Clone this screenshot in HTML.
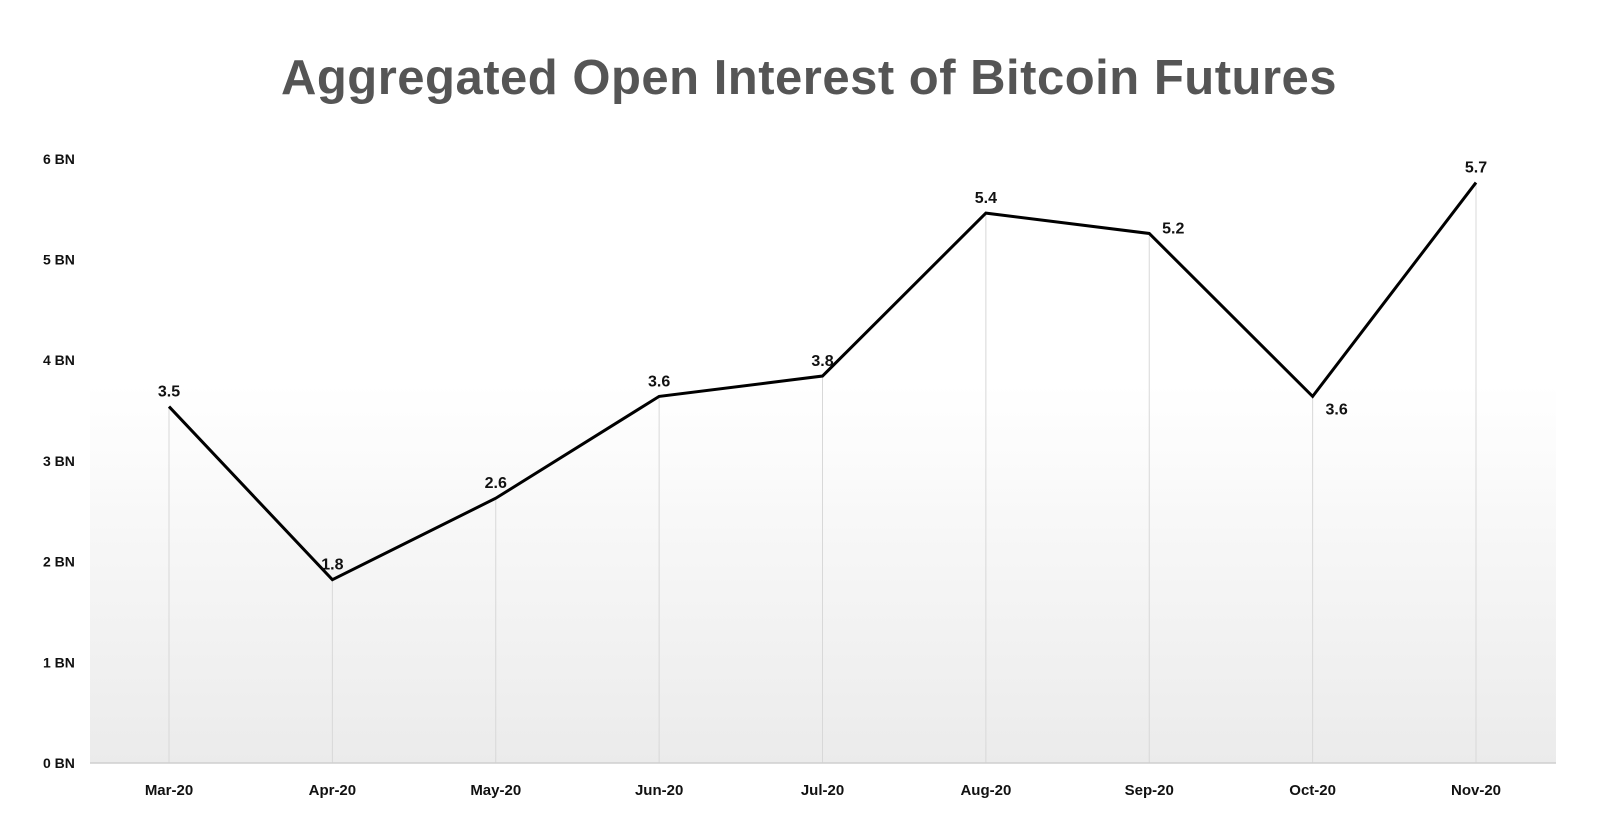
<!DOCTYPE html>
<html><head><meta charset="utf-8"><style>
html,body{margin:0;padding:0;background:#fff}
svg{display:block}
text{font-family:"Liberation Sans",sans-serif;font-weight:bold}
</style></head><body>
<svg id="chart" width="1600" height="827" viewBox="0 0 1600 827">
<defs><linearGradient id="bg" x1="0" y1="0" x2="0" y2="1">
<stop offset="0" stop-color="#ffffff"/><stop offset="0.38" stop-color="#ffffff"/><stop offset="1" stop-color="#ebebeb"/></linearGradient></defs>
<rect x="90" y="152" width="1466" height="611" fill="url(#bg)"/>
<text x="809" y="94" text-anchor="middle" font-size="49" letter-spacing="0.5" fill="#555">Aggregated Open Interest of Bitcoin Futures</text>
<g id="grid"></g><g id="yaxis"></g><g id="xaxis"></g><g id="series"></g>
</svg>
<script>
const categories=["Mar-20","Apr-20","May-20","Jun-20","Jul-20","Aug-20","Sep-20","Oct-20","Nov-20"];
const values=[3.5,1.8,2.6,3.6,3.8,5.4,5.2,3.6,5.7];
const valueLabels=["3.5","1.8","2.6","3.6","3.8","5.4","5.2","3.6","5.7"];
const yTicks=[0,1,2,3,4,5,6];
const yTickLabels=["0 BN","1 BN","2 BN","3 BN","4 BN","5 BN","6 BN"];
const NS="http://www.w3.org/2000/svg";
const x0=169,x1=1476,yBase=763,yTop=152,yMax=6;
function xs(i){return x0+(x1-x0)*i/(categories.length-1);}
function ys(v){return yBase-(yBase-yTop)*v/yMax;}
function mk(tag,attrs,parent){const e=document.createElementNS(NS,tag);for(const k in attrs)e.setAttribute(k,attrs[k]);document.getElementById(parent).appendChild(e);return e;}
yTicks.forEach((t,i)=>{
 const e=mk("text",{x:43,y:763-t*100.7+5,"font-size":14,fill:"#111"},"yaxis");
 
 
 e.textContent=yTickLabels[i];
});
const ax=mk("line",{x1:90,x2:1556,y1:yBase,y2:yBase,stroke:"#cfcfcf","stroke-width":1.5},"xaxis");


categories.forEach((c,i)=>{
 const g=mk("line",{x1:xs(i),x2:xs(i),y1:ys(values[i]),y2:yBase,stroke:"#d8d8d8","stroke-width":1},"grid");
 
 
 const t=mk("text",{x:xs(i),y:795,"text-anchor":"middle","font-size":15,fill:"#111"},"xaxis");
 
 
 t.textContent=c;
});
const pts=values.map((v,i)=>xs(i)+","+ys(v)).join(" ");
const line=mk("polyline",{points:pts,fill:"none",stroke:"#000","stroke-width":3,"stroke-linejoin":"miter"},"series");


values.forEach((v,i)=>{
 let dx=0,dy=-10;
 if(i===6){dx=24;dy=0;} if(i===7){dx=24;dy=18;}
 const t=mk("text",{x:xs(i)+dx,y:ys(v)+dy,"text-anchor":"middle","font-size":16,fill:"#111"},"series");
 
 
 t.textContent=valueLabels[i];
});
</script>
</body></html>
